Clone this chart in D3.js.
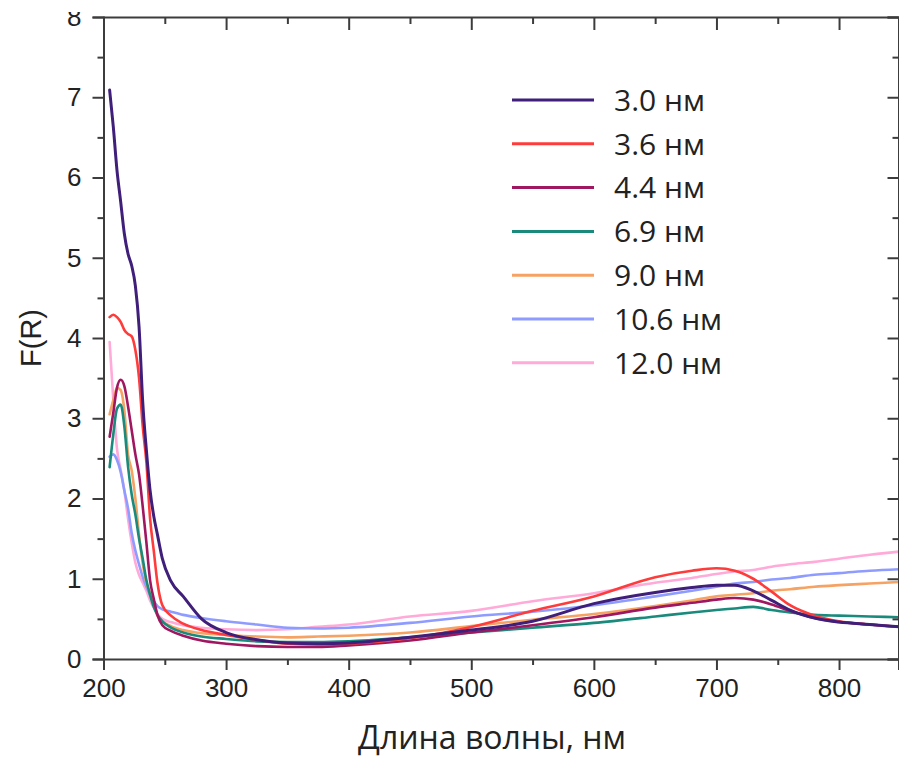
<!DOCTYPE html>
<html>
<head>
<meta charset="utf-8">
<script src="https://cdn.jsdelivr.net/npm/d3@7/dist/d3.min.js"></script>
<style>
  html, body { margin: 0; padding: 0; background: #fff; }
  svg { display: block; }
</style>
</head>
<body>
<svg id="chart" width="899" height="759"></svg>
<script>
// ---------------- DATA ----------------
const wavelengths = [205, 208, 211, 214, 217, 220, 223, 226, 229, 232, 235, 238, 241, 244, 248, 255, 265, 280, 300, 325, 350, 375, 400, 450, 500, 550, 600, 650, 680, 700, 715, 730, 745, 760, 780, 800, 825, 850];

const seriesNames = ["3.0 нм", "3.6 нм", "4.4 нм", "6.9 нм", "9.0 нм", "10.6 нм", "12.0 нм"];

const values30 = [7.09, 6.63, 6.09, 5.70, 5.30, 5.05, 4.90, 4.65, 4.14, 3.20, 2.60, 2.10, 1.78, 1.55, 1.25, 0.97, 0.78, 0.50, 0.33, 0.24, 0.20, 0.19, 0.20, 0.27, 0.36, 0.47, 0.69, 0.83, 0.89, 0.92, 0.92, 0.85, 0.73, 0.61, 0.51, 0.46, 0.43, 0.40];
const values36 = [4.26, 4.29, 4.26, 4.20, 4.10, 4.05, 4.02, 3.85, 3.50, 2.90, 2.45, 1.75, 1.35, 0.95, 0.67, 0.54, 0.44, 0.36, 0.30, 0.24, 0.19, 0.18, 0.19, 0.26, 0.40, 0.60, 0.78, 1.02, 1.10, 1.13, 1.10, 1.00, 0.84, 0.67, 0.54, 0.47, 0.43, 0.40];
const values44 = [2.77, 3.07, 3.38, 3.48, 3.40, 3.15, 2.85, 2.55, 2.30, 1.90, 1.45, 0.98, 0.75, 0.55, 0.42, 0.35, 0.29, 0.23, 0.19, 0.16, 0.15, 0.15, 0.17, 0.23, 0.33, 0.42, 0.52, 0.64, 0.70, 0.74, 0.76, 0.74, 0.68, 0.60, 0.51, 0.46, 0.43, 0.40];
const values69 = [2.39, 2.80, 3.12, 3.17, 2.90, 2.40, 2.05, 1.80, 1.50, 1.25, 0.98, 0.80, 0.65, 0.55, 0.47, 0.39, 0.33, 0.28, 0.25, 0.22, 0.21, 0.21, 0.22, 0.27, 0.33, 0.39, 0.45, 0.53, 0.58, 0.61, 0.63, 0.65, 0.61, 0.58, 0.55, 0.54, 0.53, 0.52];
const values90 = [3.05, 3.23, 3.38, 3.35, 3.10, 2.55, 2.35, 2.00, 1.55, 1.19, 0.95, 0.82, 0.68, 0.54, 0.47, 0.41, 0.36, 0.32, 0.30, 0.28, 0.27, 0.28, 0.29, 0.33, 0.41, 0.49, 0.56, 0.66, 0.73, 0.78, 0.80, 0.82, 0.85, 0.87, 0.90, 0.92, 0.94, 0.96];
const values106 = [2.52, 2.55, 2.48, 2.33, 2.10, 1.88, 1.57, 1.35, 1.18, 1.02, 0.90, 0.80, 0.72, 0.66, 0.62, 0.59, 0.55, 0.51, 0.47, 0.43, 0.39, 0.38, 0.39, 0.45, 0.53, 0.59, 0.67, 0.78, 0.85, 0.90, 0.94, 0.96, 0.99, 1.01, 1.05, 1.07, 1.10, 1.12];
const values120 = [3.95, 3.23, 2.62, 2.36, 2.10, 1.75, 1.45, 1.20, 1.05, 0.95, 0.85, 0.73, 0.64, 0.56, 0.50, 0.46, 0.42, 0.39, 0.37, 0.36, 0.37, 0.40, 0.43, 0.53, 0.60, 0.72, 0.82, 0.95, 1.01, 1.06, 1.09, 1.11, 1.15, 1.18, 1.21, 1.25, 1.30, 1.34];

const seriesColors = ["#3f1f7a", "#ff3c3c", "#9e1760", "#1a8a7c", "#f5a263", "#8f9cff", "#ffaad8"];

const xTickValues = [200, 300, 400, 500, 600, 700, 800];
const yTickValues = [0, 1, 2, 3, 4, 5, 6, 7, 8];

const xTitle = "Длина волны, нм";
const yTitle = "F(R)";

// ---------------- CHART ----------------
const allValues = [values30, values36, values44, values69, values90, values106, values120];
const series = seriesNames.map((name, i) => ({
  name, color: seriesColors[i],
  points: wavelengths.map((w, j) => [w, allValues[i][j]])
}));

const svg = d3.select("#chart");
const pL = 103.5, pR = 898.5, pT = 17, pB = 659;

const x = d3.scaleLinear().domain([200, 848.5]).range([pL, pR]);
const y = d3.scaleLinear().domain([0, 8]).range([pB, pT]);

const axisColor = "#3c3c3c";
const tickFont = "'Liberation Sans', Arial, sans-serif";

svg.append("defs").append("clipPath").attr("id", "plotclip")
  .append("rect").attr("x", pL).attr("y", pT).attr("width", pR - pL).attr("height", pB - pT);

// lines
const line = d3.line().x(d => x(d[0])).y(d => y(d[1])).curve(d3.curveMonotoneX);
const gLines = svg.append("g").attr("clip-path", "url(#plotclip)");
series.slice().reverse().forEach(s => {
  gLines.append("path")
    .datum(s.points)
    .attr("d", line)
    .attr("fill", "none")
    .attr("stroke", s.color)
    .attr("stroke-width", s.name === "3.0 нм" ? 3 : 2.6)
    .attr("stroke-linejoin", "round")
    .attr("stroke-linecap", "round");
});

function styleAxis(g) {
  g.selectAll(".domain").attr("stroke", axisColor).attr("stroke-width", 2);
  g.selectAll(".tick line").attr("stroke", axisColor).attr("stroke-width", 2);
  g.selectAll(".tick text").attr("fill", "#222").style("font-family", tickFont).style("font-size", "26px");
}
function minorStyle(g) {
  g.select(".domain").remove();
  g.selectAll("line").attr("stroke", axisColor).attr("stroke-width", 2);
}

const xMinor = d3.range(250, 850, 100);
const yMinor = d3.range(0.5, 8, 1);

// bottom
const gB = svg.append("g").attr("transform", `translate(0,${pB})`)
  .call(d3.axisBottom(x).tickValues(xTickValues).tickFormat(d3.format("d")).tickSizeOuter(0).tickSize(11).tickPadding(9));
styleAxis(gB);
svg.append("g").attr("transform", `translate(0,${pB})`)
  .call(d3.axisBottom(x).tickValues(xMinor).tickFormat("").tickSizeOuter(0).tickSize(6))
  .call(minorStyle);

// top
const gT = svg.append("g").attr("transform", `translate(0,${pT})`)
  .call(d3.axisTop(x).tickValues(xTickValues).tickFormat("").tickSizeOuter(0).tickSize(-13));
styleAxis(gT);
svg.append("g").attr("transform", `translate(0,${pT})`)
  .call(d3.axisTop(x).tickValues(xMinor).tickFormat("").tickSizeOuter(0).tickSize(-7))
  .call(minorStyle);

// left
const gL = svg.append("g").attr("transform", `translate(${pL},0)`)
  .call(d3.axisLeft(y).tickValues(yTickValues).tickFormat(d3.format("d")).tickSizeOuter(0).tickSize(11).tickPadding(11));
styleAxis(gL);
svg.append("g").attr("transform", `translate(${pL},0)`)
  .call(d3.axisLeft(y).tickValues(yMinor).tickFormat("").tickSizeOuter(0).tickSize(6))
  .call(minorStyle);

// right
const gR = svg.append("g").attr("transform", `translate(${pR},0)`)
  .call(d3.axisRight(y).tickValues(yTickValues).tickFormat("").tickSizeOuter(0).tickSize(-11));
styleAxis(gR);
svg.append("g").attr("transform", `translate(${pR},0)`)
  .call(d3.axisRight(y).tickValues(yMinor).tickFormat("").tickSizeOuter(0).tickSize(-6))
  .call(minorStyle);

// cover top of "8" label as in reference
svg.append("rect").attr("x", 0).attr("y", 0).attr("width", 98).attr("height", 12).attr("fill", "#fff");

// titles
svg.append("text")
  .attr("x", 492).attr("y", 749)
  .attr("text-anchor", "middle")
  .style("font-family", "'Open Sans', sans-serif")
  .style("font-size", "32px")
  .attr("fill", "#222")
  .text(xTitle);

svg.append("text")
  .attr("transform", `translate(41,338) rotate(-90)`)
  .attr("text-anchor", "middle")
  .style("font-family", tickFont)
  .style("font-size", "29px")
  .attr("fill", "#222")
  .text(yTitle);

// legend
const legend = svg.append("g");
series.forEach((s, i) => {
  const cy = 100 + i * 43.8;
  legend.append("line")
    .attr("x1", 512).attr("x2", 594).attr("y1", cy).attr("y2", cy)
    .attr("stroke", s.color).attr("stroke-width", 3);
  legend.append("text")
    .attr("x", 614).attr("y", cy)
    .attr("dy", "0.36em")
    .style("font-family", "'Open Sans', sans-serif")
    .style("font-size", "30px")
    .attr("fill", "#222")
    .text(s.name);
});
</script>
</body>
</html>
